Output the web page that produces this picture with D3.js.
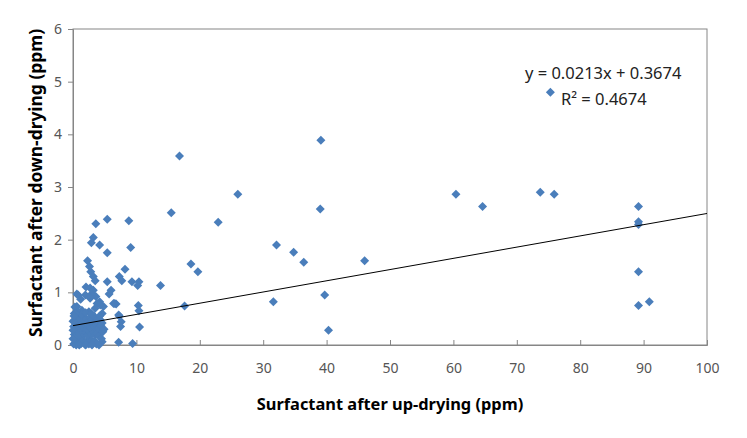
<!DOCTYPE html>
<html><head><meta charset="utf-8">
<script src="https://cdn.jsdelivr.net/npm/d3@7"></script>
<style>body{margin:0;background:#fff}svg{display:block}</style>
</head><body><svg id="c" width="747" height="438"></svg>
<script>
const xTicks = [0,10,20,30,40,50,60,70,80,90,100];
const yTicks = [0,1,2,3,4,5,6];
const xTitle = "Surfactant after up-drying (ppm)";
const yTitle = "Surfactant after down-drying (ppm)";
const slope = 0.0213, intercept = 0.3674;
const eqText = "y = 0.0213x + 0.3674";
const r2Text = "R² = 0.4674";

// scattered points (x, y)
const scatterPts = [
 [16.8,3.59],[39.1,3.89],[75.3,4.8],[26.0,2.86],[15.5,2.51],[22.9,2.33],[39.0,2.58],
 [60.4,2.86],[64.6,2.63],[73.7,2.9],[75.9,2.86],[89.2,2.63],[89.2,2.34],[89.2,2.29],
 [89.2,1.39],[89.2,0.75],[90.9,0.82],[32.1,1.9],[34.8,1.76],[36.4,1.57],[46.0,1.6],
 [31.6,0.82],[39.7,0.95],[40.3,0.28],[18.6,1.54],[19.7,1.39],[13.8,1.13],[17.6,0.74]
];
// points in the low cluster (x <= 11)
const clusterPts = [
 [3.6,2.3],[5.4,2.39],[8.8,2.36],[3.2,2.04],[2.9,1.94],[4.2,1.9],[9.1,1.85],[5.4,1.75],
 [2.3,1.6],[2.6,1.49],[8.2,1.44],[2.8,1.39],[3.2,1.3],[3.5,1.22],[7.3,1.3],[7.7,1.22],
 [5.4,1.2],[9.3,1.2],[10.4,1.2],[10.2,1.13],[2.05,1.1],[2.7,1.08],[3.2,1.04],[6.0,1.04],
 [5.7,0.97],[0.8,0.95],[1.2,0.87],[3.6,0.92],[4.2,0.82],[4.8,0.73],[4.3,0.76],[6.8,0.78],
 [10.3,0.75],[10.4,0.65],[0.3,0.72],[7.3,0.55],[7.6,0.44],[7.5,0.35],[10.5,0.34],[7.2,0.05],
 [9.4,0.03],[6.6,0.79],[0.6,0.97],[1.95,0.95],[3.0,0.98],[2.7,0.89],[3.8,0.79],[6.4,0.79],
 [0.6,0.73],[1.4,0.66],[2.5,0.63],[3.5,0.7],[4.6,0.6],[7.2,0.57],[4.6,0.06],[4.1,0.0]
];
// dense blob near origin
const blobPts = [
 [0.1,0.02],[0.3,0.1],[0.5,0.0],[0.7,0.08],[0.9,0.02],[1.1,0.12],[1.3,0.03],[1.6,0.09],[1.9,0.01],[2.2,0.07],
 [2.5,0.02],[2.8,0.1],[3.1,0.03],[3.4,0.08],[3.7,0.02],[0.2,0.2],[0.5,0.18],[0.8,0.25],[1.1,0.2],[1.4,0.27],
 [1.7,0.19],[2.0,0.24],[2.3,0.18],[2.6,0.26],[2.9,0.2],[3.2,0.25],[3.5,0.19],[3.8,0.22],[4.1,0.17],[0.1,0.35],
 [0.4,0.32],[0.7,0.38],[1.0,0.33],[1.3,0.4],[1.6,0.34],[1.9,0.39],[2.2,0.31],[2.5,0.37],[2.8,0.33],[3.1,0.4],
 [3.4,0.34],[3.7,0.38],[4.0,0.32],[4.4,0.36],[0.3,0.48],[0.6,0.45],[0.9,0.52],[1.2,0.47],[1.5,0.55],[1.8,0.46],
 [2.1,0.5],[2.4,0.44],[2.7,0.52],[3.0,0.47],[3.3,0.55],[3.6,0.45],[3.9,0.5],[4.3,0.48],[0.2,0.6],[0.8,0.62],
 [1.4,0.58],[2.0,0.61],[0.0,0.12],[0.0,0.28],[0.0,0.45],[4.5,0.12],[4.7,0.25],[4.6,0.42],[1.0,0.0],[2.0,0.0],
 [3.0,0.0],[0.4,0.6],[2.9,0.6],[4.9,0.3],[0.15,0.55],[4.2,0.55]
];
const allPts = scatterPts.concat(clusterPts, blobPts);

const svg = d3.select("#c");
const m = {l:73, r:747-707, t:29, b:438-345};
const W = 747, H = 438;
const x = d3.scaleLinear().domain([0,100]).range([m.l, W-m.r]);
const y = d3.scaleLinear().domain([0,6]).range([H-m.b, m.t]);
const font = "'Noto Sans', 'DejaVu Sans', sans-serif";

// plot area border
svg.append("rect").attr("x",x(0)).attr("y",y(6)).attr("width",x(100)-x(0)).attr("height",y(0)-y(6))
  .attr("fill","none").attr("stroke","#868686").attr("stroke-width",1);

const xa = svg.append("g").attr("transform",`translate(0,${y(0)})`)
  .call(d3.axisBottom(x).tickValues(xTicks).tickFormat(d3.format("d")).tickSize(-5).tickPadding(18));
xa.select(".domain").attr("stroke","#868686");
xa.selectAll(".tick line").attr("stroke","#868686");
xa.selectAll("text").attr("font-family",font).attr("font-size",14).attr("fill","#555");

const ya = svg.append("g").attr("transform",`translate(${x(0)},0)`)
  .call(d3.axisLeft(y).tickValues(yTicks).tickFormat(d3.format("d")).tickSize(5).tickPadding(6));
ya.select(".domain").attr("stroke","#868686");
ya.selectAll(".tick line").attr("stroke","#868686");
ya.selectAll("text").attr("font-family",font).attr("font-size",14).attr("fill","#555");

// points
const diamond = "M0,-4.5L4.5,0L0,4.5L-4.5,0Z";
svg.append("g").selectAll("path").data(allPts).join("path")
  .attr("d",diamond).attr("transform",d=>`translate(${x(d[0])},${y(d[1])})`)
  .attr("fill","#4a7ebb");

// trend line
svg.append("line").attr("x1",x(0)).attr("y1",y(intercept)).attr("x2",x(100)).attr("y2",y(intercept+slope*100))
  .attr("stroke","#000").attr("stroke-width",1);

// equation
svg.append("text").attr("x",525).attr("y",79).attr("text-anchor","start")
  .attr("font-family",font).attr("font-size",16.5).attr("fill","#222").text(eqText);
svg.append("text").attr("x",561).attr("y",105).attr("text-anchor","start")
  .attr("font-family",font).attr("font-size",16.5).attr("fill","#222").text(r2Text);

// axis titles
svg.append("text").attr("x",390).attr("y",410).attr("text-anchor","middle")
  .attr("font-family",font).attr("font-weight","bold").attr("font-size",16.4).attr("fill","#000").text(xTitle);
svg.append("text").attr("transform","translate(42,183) rotate(-90)").attr("text-anchor","middle")
  .attr("font-family",font).attr("font-weight","bold").attr("font-size",17.4).attr("fill","#000").text(yTitle);
</script></body></html>
